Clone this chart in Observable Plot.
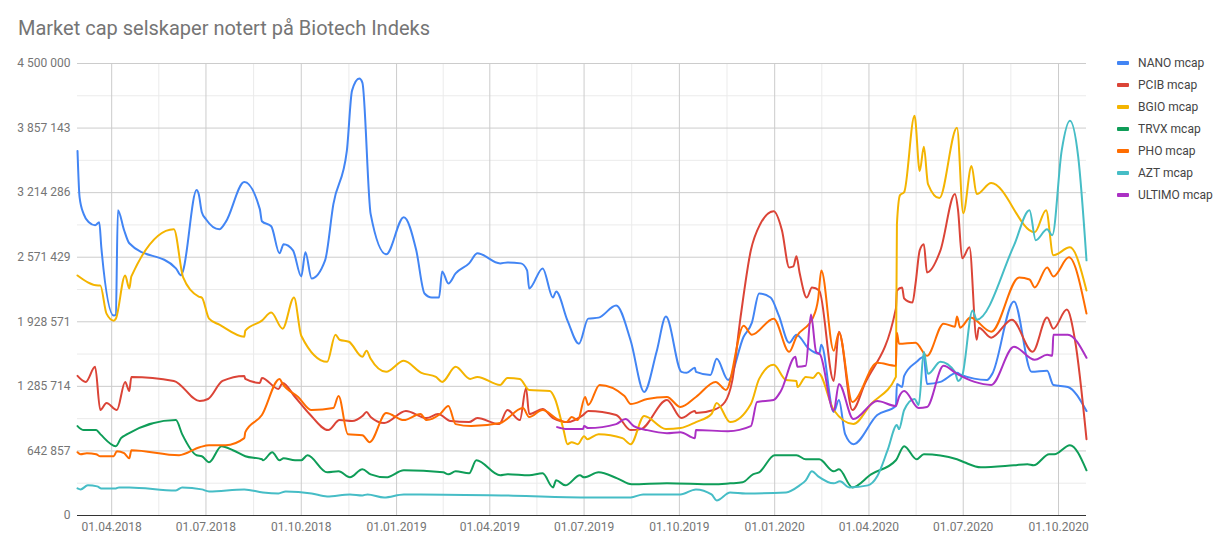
<!DOCTYPE html>
<html>
<head>
<meta charset="utf-8">
<script src="https://cdn.jsdelivr.net/npm/d3@7"></script>
<script src="https://cdn.jsdelivr.net/npm/@observablehq/plot@0.6"></script>
<style>
  html, body { margin: 0; padding: 0; background: #fff; }
  body { width: 1219px; height: 546px; position: relative; overflow: hidden; font-family: Roboto, "Noto Sans", sans-serif; }
  #title { position: absolute; left: 18px; top: 16px; font-size: 20px; color: #757575; white-space: nowrap; }
  #chart { position: absolute; left: 0; top: 50px; }
  #legend { position: absolute; left: 1117px; top: 52px; font-size: 12px; color: #444; }
  .item { height: 22px; display: flex; align-items: center; }
  .sw { width: 12px; height: 4px; margin-right: 9px; border-radius: 1px; }
</style>
</head>
<body>
<div id="title">Market cap selskaper notert på Biotech Indeks</div>
<div id="chart"></div>
<div id="legend"></div>
<script>
// ---- data ----
const seriesNames = ["NANO mcap", "PCIB mcap", "BGIO mcap", "TRVX mcap", "PHO mcap", "AZT mcap", "ULTIMO mcap"];
const seriesColors = ["#4285F4", "#DB4437", "#F4B400", "#0F9D58", "#FF6D00", "#46BDC6", "#AB30C4"];

const NANO = [
["2018-02-27",3630000],["2018-03-01",3170000],["2018-03-05",3000000],["2018-03-10",2920000],["2018-03-16",2890000],
["2018-03-20",2920000],["2018-03-22",2670000],["2018-04-03",1990000],["2018-04-05",2000000],["2018-04-07",3040000],
["2018-04-13",2840000],["2018-04-18",2710000],["2018-06-02",2460000],["2018-06-07",2390000],["2018-06-09",2440000],
["2018-06-22",3240000],["2018-06-24",3200000],["2018-06-27",3020000],["2018-07-01",2950000],["2018-07-14",2850000],
["2018-07-20",2920000],["2018-08-07",3320000],["2018-08-22",3050000],["2018-08-24",2930000],["2018-09-02",2880000],
["2018-09-10",2610000],["2018-09-14",2700000],["2018-09-23",2640000],["2018-10-01",2380000],["2018-10-05",2620000],
["2018-10-11",2360000],["2018-10-24",2540000],["2018-11-01",3100000],["2018-11-14",3630000],["2018-11-19",4230000],
["2018-11-26",4350000],["2018-11-29",4310000],["2018-12-07",3000000],["2018-12-22",2600000],["2019-01-08",2970000],
["2019-01-20",2640000],["2019-01-28",2210000],["2019-02-04",2170000],["2019-02-11",2170000],["2019-02-14",2430000],
["2019-02-20",2310000],["2019-02-27",2410000],["2019-03-12",2510000],["2019-03-20",2610000],["2019-04-11",2510000],
["2019-04-18",2520000],["2019-05-01",2510000],["2019-05-07",2440000],["2019-05-09",2260000],["2019-05-22",2460000],
["2019-06-01",2170000],["2019-06-04",2230000],["2019-06-15",1940000],["2019-06-26",1710000],["2019-07-05",1960000],
["2019-07-15",1970000],["2019-08-01",2090000],["2019-08-15",1740000],["2019-08-28",1230000],["2019-09-09",1630000],
["2019-09-18",1980000],["2019-10-03",1430000],["2019-10-08",1420000],["2019-10-16",1470000],["2019-10-17",1430000],
["2019-10-31",1400000],["2019-11-06",1560000],["2019-11-17",1350000],["2019-12-02",1780000],["2019-12-10",1920000],
["2019-12-17",2210000],["2019-12-28",2170000],["2020-01-05",1990000],["2020-01-15",1720000],["2020-01-22",1800000],
["2020-02-03",1660000],["2020-02-13",1610000],["2020-02-15",1700000],["2020-02-27",1030000],["2020-03-03",1150000],
["2020-03-09",810000],["2020-03-17",710000],["2020-04-09",1000000],["2020-04-27",1090000],["2020-04-28",1310000],
["2020-05-03",1280000],["2020-05-05",1390000],["2020-05-17",1530000],["2020-05-24",1580000],["2020-05-27",1310000],
["2020-06-09",1330000],["2020-06-25",1420000],["2020-06-29",1400000],["2020-07-24",1350000],["2020-07-29",1410000],
["2020-08-19",2130000],["2020-09-05",1430000],["2020-09-20",1440000],["2020-09-26",1300000],["2020-10-10",1280000],
["2020-10-28",1040000]
];

const PCIB = [
["2018-02-27",1390000],["2018-03-07",1330000],["2018-03-16",1480000],["2018-03-21",1050000],["2018-03-27",1120000],
["2018-04-06",1050000],["2018-04-14",1330000],["2018-04-18",1240000],["2018-04-20",1380000],["2018-05-31",1340000],
["2018-06-25",1140000],["2018-07-03",1160000],["2018-07-17",1340000],["2018-08-07",1390000],["2018-08-08",1360000],
["2018-08-22",1320000],["2018-08-24",1370000],["2018-09-09",1260000],["2018-09-13",1320000],["2018-09-25",1180000],
["2018-10-09",1010000],["2018-10-27",850000],["2018-11-07",950000],["2018-11-19",940000],["2018-11-29",990000],
["2018-12-03",1030000],["2018-12-07",980000],["2018-12-20",920000],["2019-01-10",1040000],["2019-01-30",970000],
["2019-02-10",1010000],["2019-02-22",940000],["2019-03-12",930000],["2019-03-20",970000],["2019-04-10",910000],
["2019-04-18",1050000],["2019-04-30",950000],["2019-05-06",1270000],["2019-05-09",1010000],["2019-05-22",1060000],
["2019-06-01",970000],["2019-06-15",930000],["2019-06-30",1000000],["2019-07-05",1040000],["2019-08-01",1000000],
["2019-08-15",850000],["2019-08-25",860000],["2019-09-19",1150000],["2019-10-03",970000],["2019-10-16",1040000],
["2019-10-17",1020000],["2019-11-03",1050000],["2019-11-14",1130000],["2019-11-21",1340000],["2019-11-29",1970000],
["2019-12-09",2640000],["2019-12-18",2900000],["2019-12-31",3030000],["2020-01-08",2840000],["2020-01-15",2470000],
["2020-01-19",2480000],["2020-01-22",2580000],["2020-01-25",2420000],["2020-02-01",2170000],["2020-02-06",2270000],
["2020-02-13",2240000],["2020-02-27",1340000],["2020-03-03",1830000],["2020-03-16",1050000],["2020-03-28",1310000],
["2020-04-27",2060000],["2020-04-28",2240000],["2020-05-03",2270000],["2020-05-05",2160000],["2020-05-13",2120000],
["2020-05-16",2310000],["2020-05-20",2640000],["2020-05-24",2700000],["2020-05-27",2420000],["2020-06-09",2640000],
["2020-06-23",3200000],["2020-06-26",3040000],["2020-06-30",2560000],["2020-07-07",2670000],["2020-07-14",1750000],
["2020-07-16",1870000],["2020-07-28",1770000],["2020-08-17",1950000],["2020-09-06",1630000],["2020-09-20",1970000],
["2020-09-26",1860000],["2020-10-09",2050000],["2020-10-17",1740000],["2020-10-28",760000]
];

const BGIO = [
["2018-02-27",2390000],["2018-03-19",2290000],["2018-03-21",2290000],["2018-03-27",2010000],["2018-04-03",1940000],
["2018-04-05",1960000],["2018-04-14",2390000],["2018-04-18",2260000],["2018-04-20",2380000],["2018-05-31",2850000],
["2018-06-09",2370000],["2018-06-24",2180000],["2018-06-27",2170000],["2018-07-04",1960000],["2018-07-14",1900000],
["2018-08-07",1780000],["2018-08-08",1840000],["2018-08-24",1940000],["2018-09-02",2020000],["2018-09-13",1860000],
["2018-09-24",2170000],["2018-10-01",1790000],["2018-10-26",1530000],["2018-11-03",1800000],["2018-11-07",1750000],
["2018-11-16",1730000],["2018-11-29",1580000],["2018-12-03",1640000],["2018-12-07",1560000],["2018-12-22",1430000],
["2019-01-08",1540000],["2019-01-25",1420000],["2019-02-08",1380000],["2019-02-14",1330000],["2019-02-27",1480000],
["2019-03-13",1360000],["2019-03-20",1380000],["2019-04-11",1300000],["2019-04-18",1370000],["2019-04-30",1360000],
["2019-05-09",1250000],["2019-05-29",1240000],["2019-06-03",1160000],["2019-06-11",860000],["2019-06-15",710000],
["2019-06-19",730000],["2019-06-25",710000],["2019-07-01",790000],["2019-07-04",760000],["2019-07-15",810000],
["2019-08-07",770000],["2019-08-15",710000],["2019-08-28",990000],["2019-09-18",860000],["2019-10-02",870000],
["2019-10-17",930000],["2019-11-01",1010000],["2019-11-06",1120000],["2019-11-19",930000],["2019-12-09",1110000],
["2019-12-17",1360000],["2019-12-31",1500000],["2020-01-12",1350000],["2020-01-22",1340000],["2020-01-23",1280000],
["2020-01-31",1380000],["2020-02-07",1370000],["2020-02-12",1420000],["2020-02-27",1050000],["2020-03-17",910000],
["2020-04-03",1110000],["2020-04-27",1380000],["2020-04-28",2900000],["2020-05-01",3190000],["2020-05-05",3220000],
["2020-05-15",3980000],["2020-05-20",3430000],["2020-05-24",3670000],["2020-05-28",3300000],["2020-06-08",3160000],
["2020-06-25",3860000],["2020-07-01",3010000],["2020-07-09",3480000],["2020-07-14",3200000],["2020-07-28",3310000],
["2020-09-08",2820000],["2020-09-19",3040000],["2020-09-26",2590000],["2020-10-12",2670000],["2020-10-28",2240000]
];

const TRVX = [
["2018-02-27",890000],["2018-03-05",850000],["2018-03-17",850000],["2018-03-21",810000],["2018-04-05",690000],
["2018-04-10",770000],["2018-04-16",810000],["2018-06-02",950000],["2018-06-08",810000],["2018-06-22",600000],
["2018-06-27",590000],["2018-07-04",530000],["2018-07-16",690000],["2018-07-27",650000],["2018-08-08",590000],
["2018-08-24",560000],["2018-08-25",550000],["2018-09-03",630000],["2018-09-10",550000],["2018-09-14",570000],
["2018-09-25",550000],["2018-10-01",550000],["2018-10-07",600000],["2018-10-26",430000],["2018-11-06",440000],
["2018-11-17",380000],["2018-11-29",460000],["2018-12-07",410000],["2018-12-22",380000],["2019-01-08",450000],
["2019-02-15",430000],["2019-02-20",410000],["2019-02-27",440000],["2019-03-12",420000],["2019-03-19",550000],
["2019-04-11",400000],["2019-04-18",410000],["2019-05-09",400000],["2019-05-22",420000],["2019-06-01",280000],
["2019-06-04",350000],["2019-06-13",300000],["2019-06-27",400000],["2019-07-01",380000],["2019-07-15",430000],
["2019-08-02",370000],["2019-08-16",310000],["2019-09-19",320000],["2019-11-03",310000],["2019-11-19",320000],
["2019-12-01",330000],["2019-12-11",410000],["2019-12-17",430000],["2020-01-01",600000],["2020-01-22",600000],
["2020-01-31",560000],["2020-02-13",560000],["2020-02-27",440000],["2020-03-03",460000],["2020-03-16",280000],
["2020-04-03",410000],["2020-04-27",550000],["2020-05-05",690000],["2020-05-17",560000],["2020-05-24",610000],
["2020-06-25",560000],["2020-07-02",530000],["2020-07-18",480000],["2020-08-19",500000],["2020-09-01",510000],
["2020-09-07",500000],["2020-09-22",610000],["2020-09-27",610000],["2020-10-12",700000],["2020-10-28",450000]
];

const PHO = [
["2018-02-27",630000],["2018-03-02",610000],["2018-03-08",620000],["2018-03-17",610000],["2018-03-21",590000],
["2018-04-03",590000],["2018-04-06",640000],["2018-04-13",620000],["2018-04-18",570000],["2018-04-20",650000],
["2018-06-05",600000],["2018-06-25",680000],["2018-07-04",700000],["2018-07-20",700000],["2018-08-07",770000],
["2018-08-08",830000],["2018-08-24",1000000],["2018-09-10",1360000],["2018-09-13",1310000],["2018-09-28",1180000],
["2018-10-11",1050000],["2018-11-01",1070000],["2018-11-06",1190000],["2018-11-15",810000],["2018-11-29",800000],
["2018-12-06",730000],["2018-12-22",1020000],["2019-01-08",950000],["2019-01-24",1010000],["2019-01-30",950000],
["2019-02-12",1010000],["2019-02-20",1090000],["2019-02-27",910000],["2019-03-14",890000],["2019-04-11",920000],
["2019-05-03",1070000],["2019-05-09",980000],["2019-05-22",1050000],["2019-06-05",960000],["2019-06-14",930000],
["2019-06-19",980000],["2019-06-25",950000],["2019-07-02",1180000],["2019-07-05",1100000],["2019-07-16",1300000],
["2019-08-09",1190000],["2019-08-15",1110000],["2019-08-31",1160000],["2019-09-19",1180000],["2019-10-02",1080000],
["2019-10-17",1180000],["2019-11-05",1330000],["2019-11-15",1250000],["2019-12-02",1890000],["2019-12-10",1800000],
["2019-12-31",1960000],["2020-01-15",1630000],["2020-01-22",1780000],["2020-02-07",1970000],["2020-02-12",2160000],
["2020-02-15",2440000],["2020-02-27",1640000],["2020-03-03",1820000],["2020-03-16",1130000],["2020-04-09",1520000],
["2020-04-27",1490000],["2020-04-28",1820000],["2020-04-30",1710000],["2020-05-16",1720000],["2020-05-27",1590000],
["2020-06-12",1910000],["2020-06-23",1880000],["2020-06-25",1980000],["2020-06-28",1870000],["2020-07-08",1970000],
["2020-07-28",1830000],["2020-08-24",2370000],["2020-09-03",2350000],["2020-09-08",2270000],["2020-09-20",2470000],
["2020-09-26",2380000],["2020-10-11",2570000],["2020-10-28",2010000]
];

const AZT = [
["2018-02-27",270000],["2018-03-02",260000],["2018-03-09",300000],["2018-03-18",290000],["2018-03-22",270000],
["2018-04-05",270000],["2018-04-08",280000],["2018-04-18",280000],["2018-06-02",250000],["2018-06-08",280000],
["2018-06-27",260000],["2018-07-04",240000],["2018-08-07",260000],["2018-08-25",230000],["2018-09-09",220000],
["2018-09-16",240000],["2018-10-11",220000],["2018-10-26",190000],["2018-11-17",210000],["2018-11-29",200000],
["2018-12-04",210000],["2018-12-20",180000],["2019-01-08",210000],["2019-01-24",210000],["2019-04-12",200000],
["2019-06-28",180000],["2019-08-15",180000],["2019-08-27",210000],["2019-10-02",210000],["2019-10-17",260000],
["2019-11-01",210000],["2019-11-06",150000],["2019-11-19",230000],["2019-12-04",220000],["2020-01-12",230000],
["2020-01-25",300000],["2020-01-31",350000],["2020-02-06",440000],["2020-02-12",390000],["2020-02-27",320000],
["2020-03-04",340000],["2020-03-13",280000],["2020-03-31",300000],["2020-04-09",390000],["2020-04-19",650000],
["2020-04-28",900000],["2020-04-30",860000],["2020-05-05",1050000],["2020-05-15",1160000],["2020-05-19",1100000],
["2020-05-24",1630000],["2020-05-28",1410000],["2020-06-09",1530000],["2020-06-23",1430000],["2020-06-26",1340000],
["2020-06-30",1390000],["2020-07-10",2040000],["2020-07-14",1950000],["2020-08-19",2690000],["2020-09-03",3040000],
["2020-09-09",2740000],["2020-09-20",2850000],["2020-09-25",2790000],["2020-10-04",3630000],["2020-10-12",3930000],
["2020-10-20",3570000],["2020-10-28",2540000]
];

const ULTIMO = [
["2019-06-05",880000],["2019-06-15",860000],["2019-06-30",860000],["2019-07-01",890000],["2019-07-05",870000],
["2019-08-01",910000],["2019-08-10",960000],["2019-08-18",890000],["2019-08-31",850000],["2019-09-19",820000],
["2019-10-02",830000],["2019-10-16",770000],["2019-10-17",850000],["2019-11-17",840000],["2019-12-09",890000],
["2019-12-15",1130000],["2019-12-31",1150000],["2020-01-07",1240000],["2020-01-21",1580000],["2020-01-23",1480000],
["2020-01-31",1490000],["2020-02-05",2000000],["2020-02-10",1630000],["2020-02-14",1600000],["2020-02-27",1040000],
["2020-03-03",1310000],["2020-03-17",960000],["2020-04-09",1140000],["2020-04-27",1090000],["2020-04-30",1180000],
["2020-05-05",1240000],["2020-05-19",1070000],["2020-05-27",1080000],["2020-06-12",1490000],["2020-06-25",1410000],
["2020-07-12",1330000],["2020-07-28",1300000],["2020-08-19",1680000],["2020-09-08",1550000],["2020-09-20",1600000],
["2020-09-25",1590000],["2020-09-26",1800000],["2020-10-10",1800000],["2020-10-28",1570000]
];

const seriesData = [NANO, PCIB, BGIO, TRVX, PHO, AZT, ULTIMO];

const xStart = "2018-02-27";
const xEnd = "2020-10-28";
const xTickDates = ["2018-04-01","2018-07-01","2018-10-01","2019-01-01","2019-04-01","2019-07-01",
                    "2019-10-01","2020-01-01","2020-04-01","2020-07-01","2020-10-01"];
const yMax = 4500000;
const yTicks = [0, 642857, 1285714, 1928571, 2571429, 3214286, 3857143, 4500000];

// ---- helpers ----
const parse = s => new Date(s + "T00:00:00Z");
const fmtLocale = d3.formatLocale({decimal: ",", thousands: " ", grouping: [3], currency: ["", ""]});
const yFmt = fmtLocale.format(",.0f");
const xFmt = d3.utcFormat("%d.%m.%Y");

const xTicks = xTickDates.map(parse);
const xMinor = [];
for (let i = 0; i < xTicks.length - 1; i++) xMinor.push(new Date((+xTicks[i] + +xTicks[i + 1]) / 2));
const yMinor = [];
for (let i = 0; i < yTicks.length - 1; i++) yMinor.push((yTicks[i] + yTicks[i + 1]) / 2);

const lineMarks = seriesData.map((data, i) =>
  Plot.lineY(data, {
    x: d => parse(d[0]),
    y: d => d[1],
    stroke: seriesColors[i],
    strokeWidth: 2,
    curve: "monotone-x"
  })
);

const chart = Plot.plot({
  width: 1219,
  height: 496,
  marginLeft: 77,
  marginRight: 133,
  marginTop: 13,
  marginBottom: 31,
  style: {fontFamily: "Roboto, 'Noto Sans', sans-serif", fontSize: "12px", background: "transparent"},
  x: {type: "utc", domain: [parse(xStart), parse(xEnd)]},
  y: {domain: [0, yMax]},
  marks: [
    Plot.ruleY(yMinor, {stroke: "#ebebeb", strokeWidth: 1}),
    Plot.ruleX(xMinor, {stroke: "#ebebeb", strokeWidth: 1}),
    Plot.ruleY(yTicks.slice(1), {stroke: "#cccccc", strokeWidth: 1}),
    Plot.ruleX(xTicks, {stroke: "#cccccc", strokeWidth: 1}),
    ...lineMarks,
    Plot.ruleY([0], {stroke: "#333333", strokeWidth: 1}),
    Plot.axisX({ticks: xTicks, tickFormat: xFmt, tickSize: 0, tickPadding: 7, fill: "#757575", fontSize: 12, label: null}),
    Plot.axisY({ticks: yTicks, tickFormat: yFmt, tickSize: 0, tickPadding: 7, fill: "#757575", fontSize: 12, label: null})
  ]
});
document.getElementById("chart").appendChild(chart);

// legend
const legend = document.getElementById("legend");
seriesNames.forEach((name, i) => {
  const item = document.createElement("div");
  item.className = "item";
  const sw = document.createElement("div");
  sw.className = "sw";
  sw.style.background = seriesColors[i];
  const label = document.createElement("span");
  label.textContent = name;
  item.appendChild(sw);
  item.appendChild(label);
  legend.appendChild(item);
});
</script>
</body>
</html>
